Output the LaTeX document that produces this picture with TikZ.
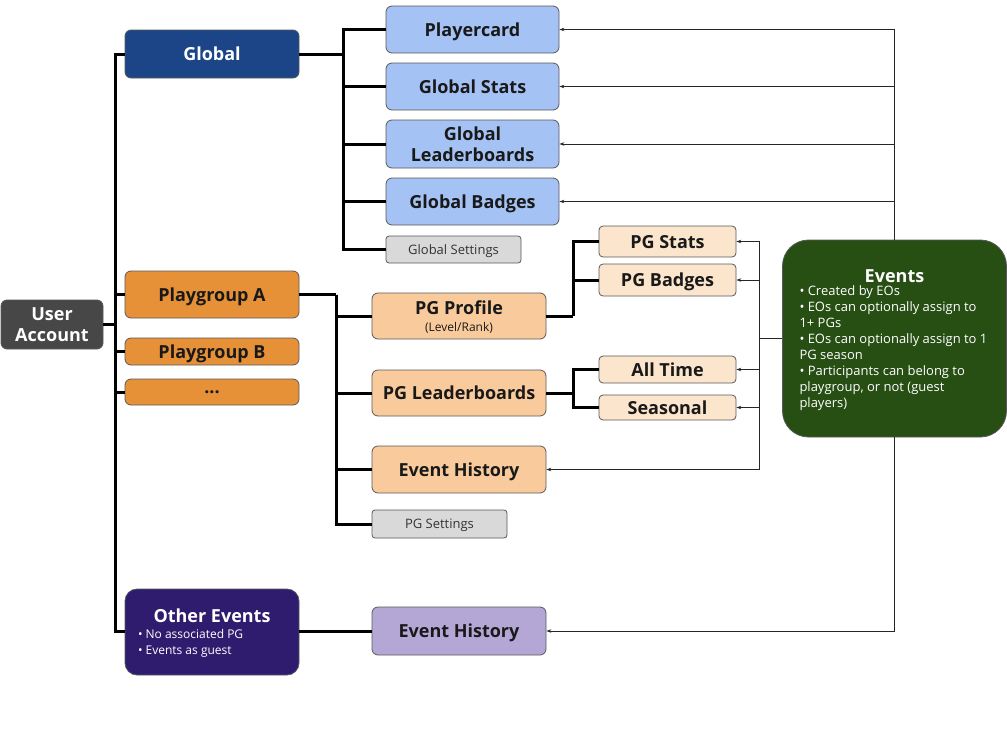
\documentclass[tikz,border=0pt]{standalone}
\usepackage{fontspec}
\setmainfont{Open Sans}
\usetikzlibrary{arrows.meta}
\definecolor{userc}{HTML}{474747}
\definecolor{globalc}{HTML}{1C4587}
\definecolor{lblue}{HTML}{A4C2F4}
\definecolor{lgray}{HTML}{D9D9D9}
\definecolor{orangec}{HTML}{E69138}
\definecolor{peach}{HTML}{F9CB9C}
\definecolor{lpeach}{HTML}{FCE5CD}
\definecolor{greenc}{HTML}{274E13}
\definecolor{dpurple}{HTML}{2F1C6E}
\definecolor{lav}{HTML}{B4A7D6}
\begin{document}
\begin{tikzpicture}[x=1pt,y=-1pt,
  box/.style={draw=black!65, line width=0.8pt, rounded corners=6pt, inner sep=0pt, align=center, text=black!90,
    text depth=0pt, font=\bfseries\fontsize{18}{21}\selectfont},
  smallbox/.style={box, font=\fontsize{13}{15}\selectfont, text=black!80},
  bus/.style={line width=3pt, black},
  feed/.style={line width=0.7pt, black!85, -{Stealth[length=5pt,width=3.5pt]}},
  link/.style={line width=0.7pt, black!85}]
\useasboundingbox (0,0) rectangle (1007,755);

% level 0/1
\node[box, fill=userc, text=white, minimum width=102pt, minimum height=49pt] (user) at (52,324.5) {User\\Account};
\node[box, fill=globalc, text=white, minimum width=174pt, minimum height=48pt] (global) at (212,54) {Global};
\node[box, fill=orangec, minimum width=174pt, minimum height=47pt] (pga) at (212,294.5) {Playgroup A};
\node[box, fill=orangec, minimum width=174pt, minimum height=27pt] (pgb) at (212,351.5) {Playgroup B};
\node[box, fill=orangec, minimum width=174pt, minimum height=26pt] (dots) at (212,392) {...};
\node[box, fill=dpurple, text=white, rounded corners=12pt, minimum width=174pt, minimum height=86pt, align=left,
  font=\fontsize{12}{16}\selectfont] (other) at (212,632)
  {\makebox[148pt][c]{\bfseries\fontsize{18}{21}\selectfont Other Events}\\[0pt]• No associated PG\\[0pt]• Events as guest};

% global children
\node[box, fill=lblue, minimum width=173pt, minimum height=47pt] (playercard) at (472.5,29.5) {Playercard};
\node[box, fill=lblue, minimum width=173pt, minimum height=47pt] (gstats) at (472.5,86.5) {Global Stats};
\node[box, fill=lblue, minimum width=173pt, minimum height=48pt] (glead) at (472.5,144) {Global\\Leaderboards};
\node[box, fill=lblue, minimum width=173pt, minimum height=47pt] (gbadges) at (472.5,201.5) {Global Badges};
\node[smallbox, fill=lgray, rounded corners=3pt, minimum width=135pt, minimum height=27pt] (gset) at (453.5,249.5) {Global Settings};

% playgroup children
\node[box, fill=peach, minimum width=174pt, minimum height=46pt] (pgprof) at (459,316) {PG Profile\\[-4pt]\mdseries\fontsize{12}{13}\selectfont (Level/Rank)};
\node[box, fill=peach, minimum width=174pt, minimum height=46pt] (pglead) at (459,393) {PG Leaderboards};
\node[box, fill=peach, minimum width=174pt, minimum height=47pt] (evhist) at (459,469.5) {Event History};
\node[smallbox, fill=lgray, rounded corners=3pt, minimum width=135pt, minimum height=28pt] (pgset) at (439.5,524) {PG Settings};

\node[box, fill=lpeach, rounded corners=4pt, minimum width=137pt, minimum height=31pt] (pgstats) at (667.5,241.5) {PG Stats};
\node[box, fill=lpeach, rounded corners=4pt, minimum width=137pt, minimum height=32pt] (pgbadges) at (667.5,280) {PG Badges};
\node[box, fill=lpeach, rounded corners=4pt, minimum width=137pt, minimum height=27pt] (alltime) at (667.5,369.5) {All Time};
\node[box, fill=lpeach, rounded corners=4pt, minimum width=137pt, minimum height=25pt] (seasonal) at (667.5,407.5) {Seasonal};

% other events child
\node[box, fill=lav, minimum width=174pt, minimum height=48pt] (evhist2) at (459,631) {Event History};

% events
\node[box, fill=greenc, text=white, rounded corners=26pt, minimum width=224pt, minimum height=197pt, align=left,
  font=\fontsize{13}{16}\selectfont] (events) at (894.5,338.5)
  {\makebox[190pt][c]{\bfseries\fontsize{18}{21}\selectfont Events}\\[-3pt]
   • Created by EOs\\ • EOs can optionally assign to\\ 1+ PGs\\ • EOs can optionally assign to 1\\ PG season\\ • Participants can belong to\\ playgroup, or not (guest\\ players)};

% main bus
\coordinate (mbus) at (115,324.5);
\draw[bus] (user.east) -- (mbus);
\draw[bus] (mbus) |- (global.west);
\draw[bus] (mbus) |- (pga.west);
\draw[bus] (mbus) |- (pgb.west);
\draw[bus] (mbus) |- (dots.west);
\draw[bus] (mbus) |- (evhist2.west -| other.west);

% global bus
\coordinate (gbus) at (343,54);
\draw[bus] (global.east) -- (gbus);
\draw[bus] (gbus) |- (playercard.west);
\draw[bus] (gbus) |- (gstats.west);
\draw[bus] (gbus) |- (glead.west);
\draw[bus] (gbus) |- (gbadges.west);
\draw[bus] (gbus) |- (gset.west);

% playgroup bus
\coordinate (pbus) at (336,294.5);
\draw[bus] (pga.east) -- (pbus);
\draw[bus] (pbus) |- (pgprof.west);
\draw[bus] (pbus) |- (pglead.west);
\draw[bus] (pbus) |- (evhist.west);
\draw[bus] (pbus) |- (pgset.west);

\coordinate (ppbus) at (573,316);
\draw[bus] (pgprof.east) -- (ppbus);
\draw[bus] (ppbus) |- (pgstats.west);
\draw[bus] (ppbus) |- (pgbadges.west);

\coordinate (plbus) at (573,393);
\draw[bus] (pglead.east) -- (plbus);
\draw[bus] (plbus) |- (alltime.west);
\draw[bus] (plbus) |- (seasonal.west);

\draw[bus] (evhist2.west -| other.east) -- (evhist2.west);

% events feeds
\coordinate (ebus) at (759,338.5);
\draw[link] (events.west) -- (ebus);
\draw[feed] (ebus) |- (pgstats.east);
\draw[feed] (ebus) |- (pgbadges.east);
\draw[feed] (ebus) |- (alltime.east);
\draw[feed] (ebus) |- (seasonal.east);
\draw[feed] (ebus) |- (evhist.east);

\draw[feed] (events.north) |- (playercard.east);
\draw[feed] (events.north |- gstats.east) -- (gstats.east);
\draw[feed] (events.north |- glead.east) -- (glead.east);
\draw[feed] (events.north |- gbadges.east) -- (gbadges.east);
\draw[feed] (events.south) |- (evhist2.east);
\end{tikzpicture}
\end{document}
